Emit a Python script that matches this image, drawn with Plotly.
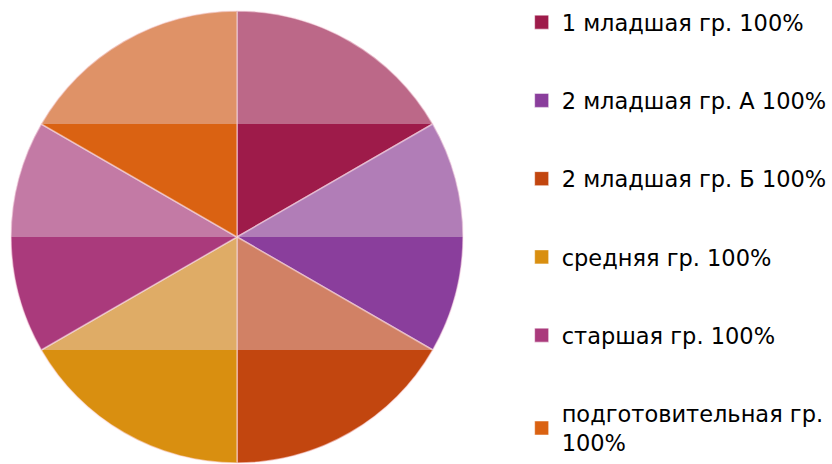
import math
import plotly.graph_objects as go

W, H = 832, 464

# ---- data ----
categories = ["1 младшая гр.", "2 младшая гр. А", "2 младшая гр. Б",
              "средняя гр.", "старшая гр.", "подготовительная гр."]
values = [100, 100, 100, 100, 100, 100]
legend_labels = ["1 младшая гр. 100%", "2 младшая гр. А 100%", "2 младшая гр. Б 100%",
                 "средняя гр. 100%", "старшая гр. 100%", "подготовительная гр.<br>100%"]
colors = ["#9E1B4A", "#8A3E9C", "#C2460F", "#D98F10", "#AA3A7C", "#DA6212"]

# ---- geometry of the pie domain (pixels -> paper) ----
DOM_X = [11 / W, 463 / W]
DOM_Y = [1 / H, 453 / H]

fig = go.Figure()
fig.add_trace(go.Pie(
    labels=categories, values=values, sort=False, direction="clockwise",
    rotation=0, textinfo="none", hoverinfo="label+percent",
    marker=dict(colors=colors, line=dict(color="rgba(255,225,235,0.55)", width=1.5)),
    domain=dict(x=DOM_X, y=DOM_Y), showlegend=False,
))

# legend entries (one group each, for spacing)
for i, (lab, c) in enumerate(zip(legend_labels, colors)):
    fig.add_trace(go.Scatter(
        x=[None], y=[None], mode="markers", name=lab, legendgroup=f"g{i}",
        marker=dict(symbol="square", size=14, color=c,
                    line=dict(color="rgba(255,255,255,0.5)", width=1)),
        hoverinfo="skip",
    ))

# ---- gloss overlay computed from the pie's own angles ----
cx = (DOM_X[0] + DOM_X[1]) / 2 * W
cy = H - (DOM_Y[0] + DOM_Y[1]) / 2 * H
R = min((DOM_X[1] - DOM_X[0]) * W, (DOM_Y[1] - DOM_Y[0]) * H) / 2


def clip(poly, y_lo, y_hi):
    def clip_half(pts, keep, inter):
        out = []
        n = len(pts)
        for k in range(n):
            p, q = pts[k], pts[(k + 1) % n]
            kp, kq = keep(p), keep(q)
            if kp:
                out.append(p)
            if kp != kq:
                out.append(inter(p, q))
        return out

    def ix(yv):
        def f(p, q):
            t = (yv - p[1]) / (q[1] - p[1])
            return (p[0] + t * (q[0] - p[0]), yv)
        return f
    pts = clip_half(poly, lambda p: p[1] >= y_lo, ix(y_lo))
    if pts:
        pts = clip_half(pts, lambda p: p[1] <= y_hi, ix(y_hi))
    return pts


total = sum(values)
cum = 0
shapes = []
for v in values:
    a0 = 90 - 360 * cum / total
    a1 = 90 - 360 * (cum + v) / total
    cum += v
    poly = [(cx, cy)]
    n = 60
    for k in range(n + 1):
        a = math.radians(a0 + (a1 - a0) * k / n)
        poly.append((cx + R * math.cos(a), cy - R * math.sin(a)))
    ys = [p[1] for p in poly]
    y_lo, y_hi = min(ys), (min(ys) + max(ys)) / 2
    g = clip(poly, y_lo, y_hi)
    if len(g) >= 3:
        path = "M " + " L ".join(f"{px / W:.5f},{1 - py / H:.5f}" for px, py in g) + " Z"
        shapes.append(dict(type="path", path=path, xref="paper", yref="paper",
                           fillcolor="rgba(232,212,222,0.42)", line=dict(width=0),
                           layer="above"))

fig.update_layout(
    width=W, height=H, autosize=False,
    margin=dict(l=0, r=0, t=0, b=0),
    paper_bgcolor="white", plot_bgcolor="white",
    xaxis=dict(visible=False), yaxis=dict(visible=False),
    shapes=shapes,
    legend=dict(x=0.627, xanchor="left", y=0.985, yanchor="top",
                font=dict(family="DejaVu Sans", size=22.5, color="black"),
                tracegroupgap=46, bgcolor="rgba(0,0,0,0)"),
    showlegend=True,
)

fig.write_html("out.html", config={"displayModeBar": False},
               post_script="document.body.style.margin='0';")
